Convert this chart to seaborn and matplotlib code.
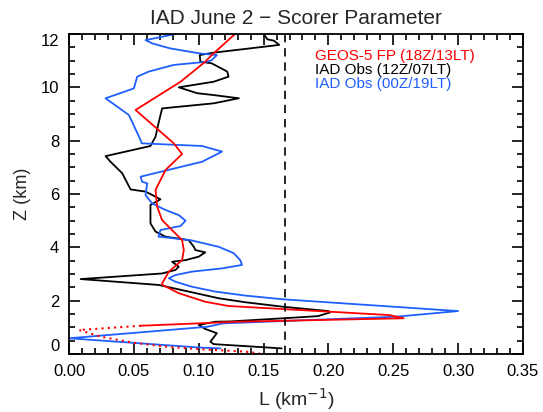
import matplotlib
matplotlib.use("Agg")
import matplotlib.pyplot as plt
import seaborn as sns
import pandas as pd
import numpy as np

# ---- data ----
model_L = [0.128, 0.110, 0.105, 0.086, 0.0513, 0.0808, 0.0872, 0.0744, 0.0667, 0.068,
           0.0718, 0.0872, 0.0885, 0.0872, 0.077, 0.0718, 0.0718, 0.0846, 0.105, 0.123,
           0.247, 0.258, 0.13, 0.0555]
model_Z = [12.0, 11.21, 10.96, 10.21, 9.15, 7.9, 7.5, 6.9, 6.15, 5.52,
           5.02, 4.27, 3.9, 3.52, 3.09, 2.65, 2.6, 2.28, 1.96, 1.8,
           1.46, 1.34, 1.21, 1.06]
model_low_L = [0.0555, 0.0077, 0.0244, 0.050, 0.0757, 0.1013, 0.136, 0.147]
model_low_Z = [1.06, 0.9, 0.65, 0.42, 0.27, 0.18, 0.09, 0.02]

obs12_L = [0.150, 0.153, 0.158, 0.162, 0.1115, 0.1008, 0.1013, 0.110, 0.122, 0.123,
           0.1115, 0.0846, 0.0988, 0.1115, 0.131, 0.1115, 0.0718, 0.069, 0.0667, 0.0628,
           0.0282, 0.032, 0.041, 0.0475, 0.059, 0.0667, 0.0705, 0.0628, 0.0628, 0.0667,
           0.0744, 0.0923, 0.0962, 0.0974, 0.105, 0.100, 0.0898, 0.0795, 0.0846, 0.082,
           0.0718, 0.009, 0.069, 0.0923, 0.1154, 0.136, 0.1654, 0.200, 0.2013, 0.192,
           0.1654, 0.124, 0.1128, 0.100, 0.105, 0.114, 0.109, 0.1115, 0.164]
obs12_Z = [12.0, 11.8, 11.75, 11.59, 11.3, 11.21, 10.96, 10.9, 10.59, 10.4,
           10.21, 10.0, 9.78, 9.71, 9.59, 9.4, 9.21, 8.65, 8.15, 7.8,
           7.42, 7.21, 6.78, 6.17, 6.09, 5.9, 5.8, 5.59, 4.9, 4.59,
           4.4, 4.27, 4.02, 3.9, 3.81, 3.65, 3.52, 3.46, 3.27, 3.15,
           3.02, 2.81, 2.59, 2.34, 2.09, 1.94, 1.77, 1.61, 1.56, 1.42,
           1.34, 1.22, 1.21, 1.09, 0.94, 0.78, 0.46, 0.37, 0.21]

obs00_L = [0.082, 0.059, 0.064, 0.078, 0.101, 0.114, 0.110, 0.1065, 0.0808, 0.0615,
           0.0526, 0.050, 0.0282, 0.0462, 0.0552, 0.056, 0.1026, 0.118, 0.1026, 0.0552,
           0.0564, 0.0603, 0.059, 0.064, 0.0744, 0.0846, 0.0898, 0.086, 0.0705, 0.069,
           0.0936, 0.1154, 0.127, 0.132, 0.1334, 0.118, 0.095, 0.082, 0.077, 0.082,
           0.095, 0.1128, 0.136, 0.1654, 0.300, 0.2526, 0.119, 0.1065, 0.000, 0.1013,
           0.1167]
obs00_Z = [12.0, 11.77, 11.65, 11.46, 11.27, 11.21, 11.02, 10.96, 10.84, 10.59,
           10.4, 9.96, 9.59, 8.96, 8.02, 7.9, 7.8, 7.59, 7.21, 6.65,
           6.46, 6.4, 5.96, 5.65, 5.4, 5.21, 5.0, 4.8, 4.65, 4.4,
           4.27, 4.02, 3.78, 3.52, 3.34, 3.21, 3.09, 2.96, 2.84, 2.71,
           2.52, 2.34, 2.19, 2.05, 1.61, 1.4, 1.15, 1.02, 0.59, 0.24,
           0.21]

ref_L = 0.1667

x_ticks = [0.00, 0.05, 0.10, 0.15, 0.20, 0.25, 0.30, 0.35]
y_ticks = [0, 2, 4, 6, 8, 10, 12]

title = "IAD June 2 \u2212 Scorer Parameter"
legend_labels = ["GEOS-5 FP (18Z/13LT)", "IAD Obs (12Z/07LT)", "IAD Obs (00Z/19LT)"]
colors = ["#ff0000", "#000000", "#1f5fff"]

# ---- plotting ----
sns.set_theme(style="ticks")
plt.rcParams['font.family'] = ['Liberation Sans', 'DejaVu Sans']

fig = plt.figure(figsize=(5.43, 4.12), dpi=100)
ax = fig.add_axes([69/543, 58/412, 454/543, 320/412])

lw = 1.3
sns.lineplot(x=obs12_L, y=obs12_Z, sort=False, estimator=None, color=colors[1], lw=lw, ax=ax)
sns.lineplot(x=obs00_L, y=obs00_Z, sort=False, estimator=None, color=colors[2], lw=lw, ax=ax)
sns.lineplot(x=model_L, y=model_Z, sort=False, estimator=None, color=colors[0], lw=lw, ax=ax)
sns.lineplot(x=model_low_L, y=model_low_Z, sort=False, estimator=None, color=colors[0],
             lw=1.5, ax=ax, linestyle=(0, (1, 2)))
ax.axvline(ref_L, color="black", lw=1.2, linestyle=(0, (5, 3.5)))

ax.set_xlim(0, 0.35)
ax.set_ylim(0, 12)
ax.set_xticks(x_ticks)
ax.set_xticklabels([f"{v:.2f}" for v in x_ticks])
ax.set_yticks(y_ticks)
ax.set_yticklabels([str(v) for v in y_ticks])
ax.set_xticks(np.arange(0, 0.3501, 0.01), minor=True)
ax.set_yticks(np.arange(0, 12.01, 0.5), minor=True)
ax.tick_params(which="both", direction="in", top=True, right=True, width=1.2, colors="black",
               labelsize=12, pad=7)
ax.tick_params(which="major", length=8)
ax.tick_params(which="minor", length=4)
for lab in ax.get_yticklabels():
    if lab.get_text() == "12":
        lab.set_va("top")
    elif lab.get_text() == "0":
        lab.set_va("bottom")
for s in ax.spines.values():
    s.set_linewidth(1.3)
    s.set_color("black")
    s.set_visible(True)

ax.set_xlabel("L (km$^{-1}$)", fontsize=14, labelpad=5)
ax.set_ylabel("Z (km)", fontsize=13, labelpad=7)
ax.set_title(title, fontsize=15, pad=7)

ys = [0.932, 0.888, 0.844]
for lab, c, yy in zip(legend_labels, colors, ys):
    ax.text(0.542, yy, lab, color=c, fontsize=11, transform=ax.transAxes, va="center", ha="left")

fig.savefig("out.png", dpi=100)
